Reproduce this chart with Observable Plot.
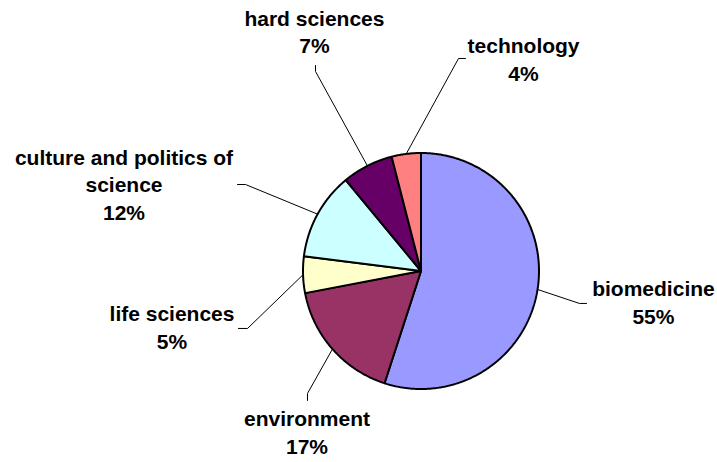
<!DOCTYPE html>
<html><head><meta charset="utf-8">
<script src="https://cdn.jsdelivr.net/npm/d3@7"></script>
<script src="https://cdn.jsdelivr.net/npm/@observablehq/plot@0.6"></script>
<style>html,body{margin:0;padding:0;background:#fff}</style>
</head><body><div id="chart"></div>
<script>
// ---- data ----
const categories = ["biomedicine", "environment", "life sciences", "culture and politics of science", "hard sciences", "technology"];
const shares = [55, 17, 5, 12, 7, 4];
const labelText = ["biomedicine", "environment", "life sciences", "culture and politics of\nscience", "hard sciences", "technology"];
const colors = ["#9999FF", "#993366", "#FFFFCC", "#CCFFFF", "#660066", "#FF8080"];

// ---- layout (in pie-radius units, relative to pie centre) ----
const labelAt = [[1.97, -0.445], [-0.966, -1.547], [-2.11, -0.657], [-2.517, 0.436], [-0.903, 1.846], [0.869, 1.614]];
const leaderElbow = [[1.343, -0.275], [-0.962, -1.038], [-1.47, -0.487], [-1.487, 0.733], [-0.894, 1.691], [0.318, 1.801]];
const leaderEnd = [[1.403, -0.275], [-0.962, -1.097], [-1.547, -0.487], [-1.555, 0.733], [-0.894, 1.742], [0.377, 1.801]];

const W = 717, H = 462, cx = 420.5, cy = 270.5, R = 118;

// pie geometry (angles clockwise from 12 o'clock)
const total = d3.sum(shares);
let acc = 0;
const slices = categories.map((c, i) => {
  const a0 = acc / total * 2 * Math.PI;
  acc += shares[i];
  const a1 = acc / total * 2 * Math.PI;
  return {cat: c, a0, a1, mid: (a0 + a1) / 2};
});
const slicePts = [];
slices.forEach(s => {
  slicePts.push({cat: s.cat, x: 0, y: 0});
  const n = Math.max(2, Math.ceil((s.a1 - s.a0) / (Math.PI / 360)));
  for (let k = 0; k <= n; k++) {
    const a = s.a0 + (s.a1 - s.a0) * k / n;
    slicePts.push({cat: s.cat, x: Math.sin(a), y: Math.cos(a)});
  }
  slicePts.push({cat: s.cat, x: 0, y: 0});
});
const leaderPts = [];
slices.forEach((s, i) => {
  leaderPts.push({cat: s.cat, x: Math.sin(s.mid), y: Math.cos(s.mid)});
  leaderPts.push({cat: s.cat, x: leaderElbow[i][0], y: leaderElbow[i][1]});
  leaderPts.push({cat: s.cat, x: leaderEnd[i][0], y: leaderEnd[i][1]});
});
const labels = categories.map((c, i) => ({
  cat: c, x: labelAt[i][0], y: labelAt[i][1],
  text: labelText[i] + "\n" + shares[i] + "%"
}));

const chart = Plot.plot({
  width: W, height: H, margin: 0,
  x: {domain: [-cx / R, (W - cx) / R], axis: null},
  y: {domain: [-(H - cy) / R, cy / R], axis: null},
  color: {type: "ordinal", domain: categories, range: colors},
  style: {background: "#fff"},
  marks: [
    Plot.line(leaderPts, {x: "x", y: "y", z: "cat", stroke: "#000", strokeWidth: 1}),
    Plot.line(slicePts, {x: "x", y: "y", z: "cat", fill: "cat", stroke: "#000", strokeWidth: 2, strokeLinejoin: "miter"}),
    Plot.text(labels, {x: "x", y: "y", text: "text", lineAnchor: "bottom", lineHeight: 1.31,
      fontSize: 21, fontWeight: "bold", fontFamily: "'Liberation Sans', Arial, sans-serif",
      fill: "#000", textAnchor: "middle"})
  ]
});
document.getElementById("chart").appendChild(chart);
</script>
</body></html>
